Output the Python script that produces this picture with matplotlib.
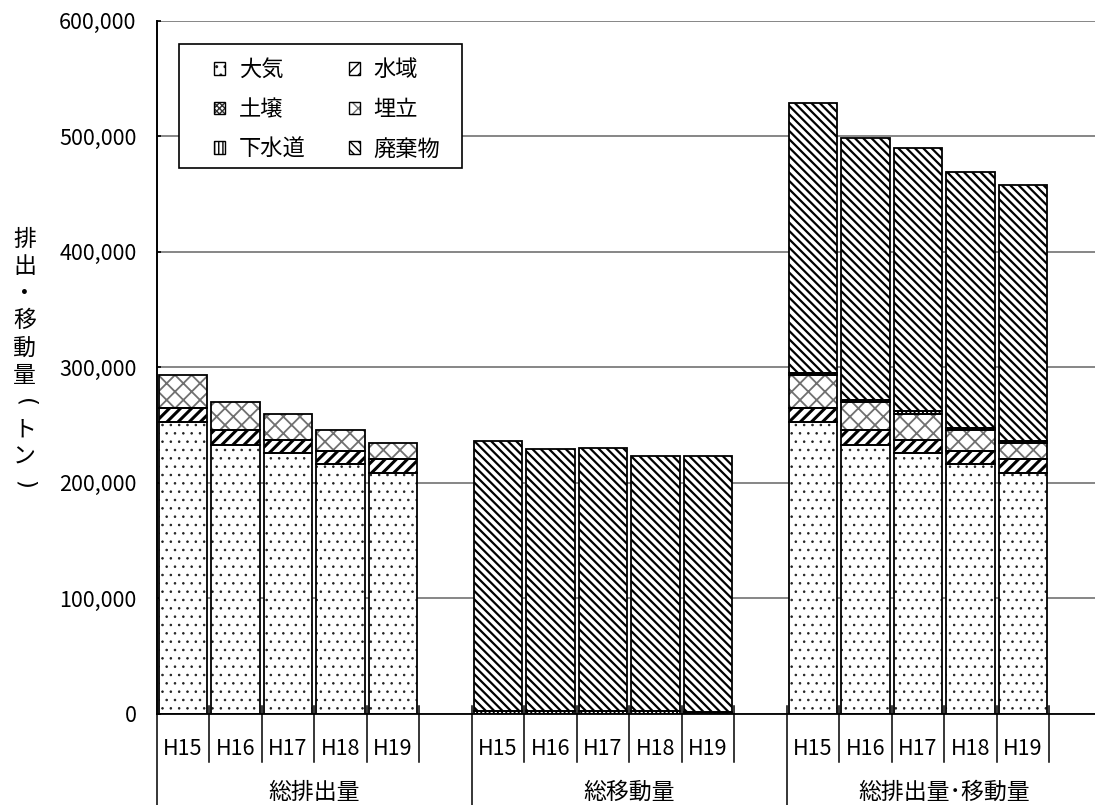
import matplotlib
matplotlib.use('Agg')
import matplotlib.pyplot as plt
from matplotlib.patches import Patch, Rectangle
from matplotlib.lines import Line2D
import matplotlib.transforms as mtransforms

plt.rcParams['font.family'] = ['Noto Sans CJK JP', 'DejaVu Sans']

# ---------------- data ----------------
groups = ['総排出量', '総移動量', '総排出量･移動量']
years = ['H15', 'H16', 'H17', 'H18', 'H19']
series_names = ['大気', '水域', '土壌', '埋立', '下水道', '廃棄物']

# values in tonnes, 15 entries: 3 groups x 5 years
air      = [252400, 232700, 225500, 216000, 208700,
            0, 0, 0, 0, 0,
            252400, 232700, 225500, 216000, 208700]
water    = [12100, 12400, 11500, 11500, 11900,
            0, 0, 0, 0, 0,
            12100, 12400, 11500, 11500, 11900]
soil     = [200, 200, 200, 200, 200,
            0, 0, 0, 0, 0,
            200, 200, 200, 200, 200]
landfill = [28100, 24100, 22400, 17700, 13600,
            0, 0, 0, 0, 0,
            28100, 24100, 22400, 17700, 13600]
sewer    = [0, 0, 0, 0, 0,
            2300, 2300, 2200, 2200, 1600,
            2300, 2300, 2200, 2200, 1600]
waste    = [0, 0, 0, 0, 0,
            233300, 226700, 227900, 221200, 221800,
            233300, 226700, 227900, 221200, 221800]

yticks = [0, 100000, 200000, 300000, 400000, 500000, 600000]

series_values = [air, water, soil, landfill, sewer, waste]
# style: (hatch, hatch colour, hatch linewidth)
styles = [
    ('..', '#202020', 0.6),
    ('///', '#000000', 2.2),
    ('xxxxxx', '#303030', 0.7),
    ('xx', '#707070', 1.3),
    ('||||', '#000000', 1.4),
    ('\\\\\\\\', '#000000', 1.6),
]

# ---------------- figure ----------------
W, H = 1095, 805
fig = plt.figure(figsize=(W / 100, H / 100), dpi=100)
ax_left, ax_top, ax_zero = 156.7, 20.7, 713.5
slot_px = 52.5
nslots = 18
ax = fig.add_axes([ax_left / W, (H - ax_zero) / H,
                   nslots * slot_px / W, (ax_zero - ax_top) / H])
ax.set_xlim(0, nslots)
ax.set_ylim(0, 600000)


def set_hlw(p, lw):
    if hasattr(p, 'set_hatch_linewidth'):
        p.set_hatch_linewidth(lw)


n_years = len(years)
xpos = []
for g in range(len(groups)):
    for j in range(n_years):
        xpos.append(g * (n_years + 1) + j + 0.5)

bar_w = 0.92
bottoms = [0.0] * len(xpos)
for vals, (hatch, hcol, hlw) in zip(series_values, styles):
    for i, v in enumerate(vals):
        if v <= 0:
            continue
        with plt.rc_context({'hatch.linewidth': hlw}):
            b = ax.bar(xpos[i], v, bottom=bottoms[i], width=bar_w,
                       facecolor='white', edgecolor=hcol, hatch=hatch,
                       linewidth=0, zorder=2)
        for p in b:
            set_hlw(p, hlw)
        ax.bar(xpos[i], v, bottom=bottoms[i], width=bar_w, fill=False,
               edgecolor='black', linewidth=1.3, zorder=3)
        bottoms[i] += v

# axes styling
for s in ['top', 'right']:
    ax.spines[s].set_visible(False)
ax.spines['left'].set_linewidth(1.4)
ax.spines['bottom'].set_linewidth(1.3)
ax.set_yticks(yticks)
ax.set_yticklabels([f'{t:,}' for t in yticks], fontsize=15.5)
ax.tick_params(axis='y', direction='in', length=3, width=1.2, pad=14.5)
ax.set_xticks([])
ax.yaxis.grid(True, color='#868686', linewidth=1.4)
ax.set_axisbelow(True)

# category separators
trans = mtransforms.blended_transform_factory(ax.transData, ax.transAxes)
axis_h = ax_zero - ax_top
up = 8 / axis_h
cat_low = -(761.7 - ax_zero) / axis_h
grp_low = -(H + 5 - ax_zero) / axis_h
for k in range(0, nslots + 1):
    if k % (n_years + 1) == 0:
        y0 = 0 if k == 0 else up
        ax.add_line(Line2D([k, k], [y0, grp_low], transform=trans,
                           color='black', linewidth=1.1, clip_on=False))
    else:
        ax.add_line(Line2D([k, k], [up, cat_low], transform=trans,
                           color='black', linewidth=1.1, clip_on=False))

cat_y = -(749 - ax_zero) / axis_h
grp_y = -(792 - ax_zero) / axis_h
for i, x in enumerate(xpos):
    ax.text(x, cat_y, years[i % n_years], transform=trans, ha='center',
            va='center', fontsize=15.5)
for g, name in enumerate(groups):
    cx = g * (n_years + 1) + (n_years + 1) / 2
    ax.text(cx, grp_y, name, transform=trans, ha='center', va='center',
            fontsize=16.5)

# vertical y-axis label (parentheses turned for vertical writing)
ylab = ['排', '出', '・', '移', '動', '量', '(', 'ト', 'ン', ')']
for i, ch in enumerate(ylab):
    yy = 239 + i * 27.3
    if ch in '()':
        fig.text(24.5 / W, 1 - yy / H, ch, ha='center', va='center',
                 fontsize=16.5, rotation=-90, rotation_mode='anchor',
                 family='DejaVu Sans')
    else:
        fig.text(24.5 / W, 1 - yy / H, ch, ha='center', va='center',
                 fontsize=16.5)

# legend
handles = []
for (hatch, hcol, hlw) in styles:
    with plt.rc_context({'hatch.linewidth': hlw}):
        ph = Patch(facecolor='white', edgecolor=hcol, hatch=hatch, linewidth=0)
    set_hlw(ph, hlw)
    po = Patch(facecolor='none', edgecolor='black', linewidth=1.0)
    handles.append((ph, po))
order = [0, 2, 4, 1, 3, 5]
leg = fig.legend([handles[i] for i in order], [series_names[i] for i in order],
                 loc='upper left', bbox_to_anchor=(203 / W, 1 - 47 / H),
                 ncol=2, frameon=False, fontsize=16, borderpad=0,
                 handlelength=0.5, handleheight=0.5, handletextpad=0.6,
                 columnspacing=1.95, labelspacing=0.75)
fig.patches.append(Rectangle((179.3 / W, 1 - 168.3 / H),
                             (461.7 - 179.3) / W, (168.3 - 44.3) / H,
                             transform=fig.transFigure, facecolor='white',
                             edgecolor='black', linewidth=1.2, zorder=5))
leg.set_zorder(6)

fig.savefig('out.png', dpi=100)
